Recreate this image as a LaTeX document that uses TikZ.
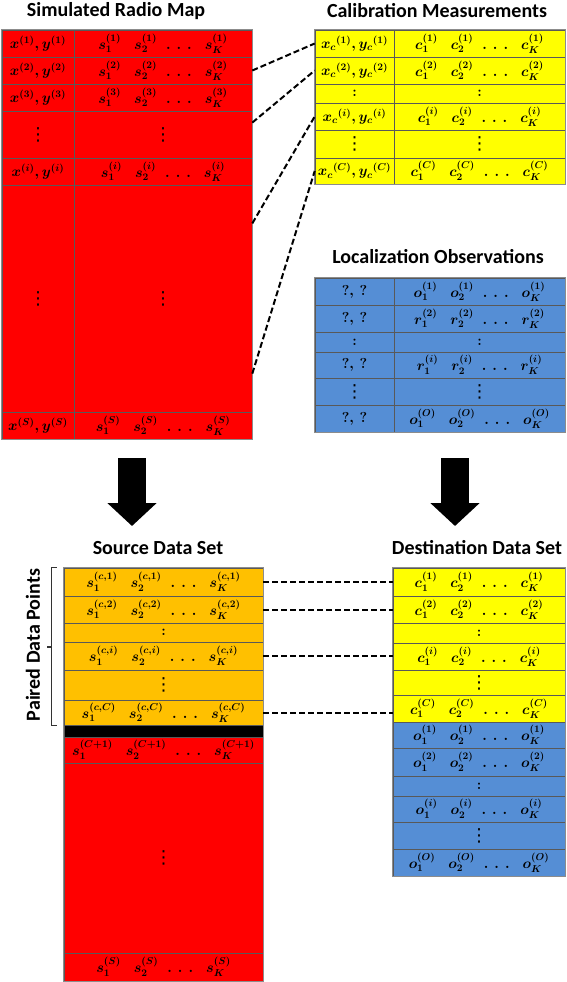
\documentclass[tikz,border=0pt]{standalone}
\usepackage{amsmath,amssymb}
\usepackage{fontspec}
\usepackage{xcolor}
\usepackage{tikz}
\usetikzlibrary{arrows.meta, calc}

\newfontfamily\titlefont{Carlito}
\newfontfamily\dotsfont{DejaVu Sans}

\definecolor{mapred}{HTML}{FF0000}
\definecolor{calyellow}{HTML}{FFFF00}
\definecolor{obsblue}{HTML}{558ED5}
\definecolor{srcorange}{HTML}{FFC000}

% table cell: name, style, x left, x right, y top, y bottom, text
\newcommand{\tabcell}[7]{%
  \node[#2, minimum width={(#4-#3)*1pt}, minimum height={(#6-#5)*1pt}] (#1) at ({(#3+#4)/2},{(#5+#6)/2}) {#7};}
% values v_1 v_2 ... v_K of one data point
\newcommand{\vals}[2]{$#1_1^{(#2)}\hspace{13pt}#1_2^{(#2)}\hspace{9pt}.\hspace{6pt}.\hspace{6pt}.\hspace{13pt}#1_K^{(#2)}$}
% calibration position
\newcommand{\calpos}[1]{$x_c{}^{(#1)}, y_c{}^{(#1)}$}
% vertical dots
\newcommand{\vdts}{{\dotsfont\fontsize{18}{20}\selectfont ⋮}}

\begin{document}
\begin{tikzpicture}[
  x=1pt, y=-1pt,
  cellbase/.style={rectangle, draw=black!65, line width=0.6pt, inner sep=0pt, font=\boldmath\fontsize{14}{16}\selectfont},
  redcell/.style={cellbase, fill=mapred},
  yellowcell/.style={cellbase, fill=calyellow},
  bluecell/.style={cellbase, fill=obsblue},
  orangecell/.style={cellbase, fill=srcorange},
  bandcell/.style={cellbase, fill=black},
  frame/.style={draw=black!45, line width=1.4pt},
  title/.style={font=\titlefont\bfseries\fontsize{20}{24}\selectfont, inner sep=0pt},
  mapline/.style={dash pattern=on 6pt off 3pt, line width=2pt},
  bigarrow/.style={-{Triangle[width=48pt,length=23pt]}, line width=28pt}
]
  \useasboundingbox (0,0) rectangle (566,982);

  % simulated radio map
  \node[title] (rmtitle) at (116,11) {Simulated Radio Map};
  \tabcell{rm1a}{redcell}{2}{74}{30}{57}{$x^{(1)}, y^{(1)}$}
  \tabcell{rm1b}{redcell}{74}{252}{30}{57}{\vals{s}{1}}
  \tabcell{rm2a}{redcell}{2}{74}{57}{84}{$x^{(2)}, y^{(2)}$}
  \tabcell{rm2b}{redcell}{74}{252}{57}{84}{\vals{s}{2}}
  \tabcell{rm3a}{redcell}{2}{74}{84}{111}{$x^{(3)}, y^{(3)}$}
  \tabcell{rm3b}{redcell}{74}{252}{84}{111}{\vals{s}{3}}
  \tabcell{rm4a}{redcell}{2}{74}{111}{158}{\vdts}
  \tabcell{rm4b}{redcell}{74}{252}{111}{158}{\vdts}
  \tabcell{rm5a}{redcell}{2}{74}{158}{185}{$x^{(i)}, y^{(i)}$}
  \tabcell{rm5b}{redcell}{74}{252}{158}{185}{\vals{s}{i}}
  \tabcell{rm6a}{redcell}{2}{74}{185}{412}{\vdts}
  \tabcell{rm6b}{redcell}{74}{252}{185}{412}{\vdts}
  \tabcell{rm7a}{redcell}{2}{74}{412}{439}{$x^{(S)}, y^{(S)}$}
  \tabcell{rm7b}{redcell}{74}{252}{412}{439}{\vals{s}{S}}
  \draw[frame] (rm1a.north west) rectangle (rm7b.south east);

  % calibration measurements
  \node[title] (cmtitle) at (437,11) {Calibration Measurements};
  \tabcell{cm1a}{yellowcell}{315}{394}{30}{57}{\calpos{1}}
  \tabcell{cm1b}{yellowcell}{394}{565}{30}{57}{\vals{c}{1}}
  \tabcell{cm2a}{yellowcell}{315}{394}{57}{84}{\calpos{2}}
  \tabcell{cm2b}{yellowcell}{394}{565}{57}{84}{\vals{c}{2}}
  \tabcell{cm3a}{yellowcell}{315}{394}{84}{103}{$:$}
  \tabcell{cm3b}{yellowcell}{394}{565}{84}{103}{$:$}
  \tabcell{cm4a}{yellowcell}{315}{394}{103}{130}{\calpos{i}}
  \tabcell{cm4b}{yellowcell}{394}{565}{103}{130}{\vals{c}{i}}
  \tabcell{cm5a}{yellowcell}{315}{394}{130}{158}{\vdts}
  \tabcell{cm5b}{yellowcell}{394}{565}{130}{158}{\vdts}
  \tabcell{cm6a}{yellowcell}{315}{394}{158}{184}{\calpos{C}}
  \tabcell{cm6b}{yellowcell}{394}{565}{158}{184}{\vals{c}{C}}
  \draw[frame] (cm1a.north west) rectangle (cm6b.south east);

  % calibration points inside the radio map
  \draw[mapline] (rm2b.east) -- (cm1a.west);
  \draw[mapline] ($(rm4b.north east)!0.25!(rm4b.south east)$) -- (cm2a.west);
  \draw[mapline] ($(rm6b.north east)!0.17!(rm6b.south east)$) -- (cm4a.west);
  \draw[mapline] ($(rm6b.north east)!0.83!(rm6b.south east)$) -- (cm6a.west);

  % localization observations
  \node[title] (lotitle) at (438,257) {Localization Observations};
  \tabcell{lo1a}{bluecell}{315}{394}{278}{305}{$?,\,?$}
  \tabcell{lo1b}{bluecell}{394}{565}{278}{305}{\vals{o}{1}}
  \tabcell{lo2a}{bluecell}{315}{394}{305}{332}{$?,\,?$}
  \tabcell{lo2b}{bluecell}{394}{565}{305}{332}{\vals{r}{2}}
  \tabcell{lo3a}{bluecell}{315}{394}{332}{352}{$:$}
  \tabcell{lo3b}{bluecell}{394}{565}{332}{352}{$:$}
  \tabcell{lo4a}{bluecell}{315}{394}{352}{378}{$?,\,?$}
  \tabcell{lo4b}{bluecell}{394}{565}{352}{378}{\vals{r}{i}}
  \tabcell{lo5a}{bluecell}{315}{394}{378}{405}{\vdts}
  \tabcell{lo5b}{bluecell}{394}{565}{378}{405}{\vdts}
  \tabcell{lo6a}{bluecell}{315}{394}{405}{432}{$?,\,?$}
  \tabcell{lo6b}{bluecell}{394}{565}{405}{432}{\vals{o}{O}}
  \draw[frame] (lo1a.north west) rectangle (lo6b.south east);

  % big arrows
  \coordinate (aL1) at (132,458);
  \coordinate (aL2) at (132,526);
  \coordinate (aR1) at (455,458);
  \coordinate (aR2) at (455,526);
  \draw[bigarrow] (aL1) -- (aL2);
  \draw[bigarrow] (aR1) -- (aR2);

  % source data set
  \node[title] (sdtitle) at (158,548) {Source Data Set};
  \tabcell{sd1}{orangecell}{64}{263}{568}{596}{\vals{s}{c,1}}
  \tabcell{sd2}{orangecell}{64}{263}{596}{623}{\vals{s}{c,2}}
  \tabcell{sd3}{orangecell}{64}{263}{623}{642}{$:$}
  \tabcell{sd4}{orangecell}{64}{263}{642}{670}{\vals{s}{c,i}}
  \tabcell{sd5}{orangecell}{64}{263}{670}{700}{\vdts}
  \tabcell{sd6}{orangecell}{64}{263}{700}{725}{\vals{s}{c,C}}
  \tabcell{sdband}{bandcell}{64}{263}{725}{737}{}
  \tabcell{sd7}{redcell}{64}{263}{737}{763}{\vals{s}{C+1}}
  \tabcell{sd8}{redcell}{64}{263}{763}{953}{\vdts}
  \tabcell{sd9}{redcell}{64}{263}{953}{981}{\vals{s}{S}}
  \draw[frame] (sd1.north west) rectangle (sd9.south east);

  % bracket for the paired points
  \draw[line width=1.2pt, black!80] ([xshift=-7pt]sd1.north west) -- ++(-5,0) |- ([xshift=-7pt]sd6.south west);
  \draw[line width=1.2pt, black!80] (52,647) -- (47,647);
  \node[title, rotate=90] (pdp) at (33,645) {Paired Data Points};

  % destination data set
  \node[title] (ddtitle) at (477,548) {Destination Data Set};
  \tabcell{dd1}{yellowcell}{393}{565}{568}{596}{\vals{c}{1}}
  \tabcell{dd2}{yellowcell}{393}{565}{596}{623}{\vals{c}{2}}
  \tabcell{dd3}{yellowcell}{393}{565}{623}{643}{$:$}
  \tabcell{dd4}{yellowcell}{393}{565}{643}{670}{\vals{c}{i}}
  \tabcell{dd5}{yellowcell}{393}{565}{670}{695}{\vdts}
  \tabcell{dd6}{yellowcell}{393}{565}{695}{722}{\vals{c}{C}}
  \tabcell{dd7}{bluecell}{393}{565}{722}{748}{\vals{o}{1}}
  \tabcell{dd8}{bluecell}{393}{565}{748}{776}{\vals{o}{2}}
  \tabcell{dd9}{bluecell}{393}{565}{776}{796}{$:$}
  \tabcell{dd10}{bluecell}{393}{565}{796}{822}{\vals{o}{i}}
  \tabcell{dd11}{bluecell}{393}{565}{822}{849}{\vdts}
  \tabcell{dd12}{bluecell}{393}{565}{849}{876}{\vals{o}{O}}
  \draw[frame] (dd1.north west) rectangle (dd12.south east);

  % pairs between source and destination
  \draw[mapline] (sd1.east) -- (sd1.east -| dd1.west);
  \draw[mapline] (sd2.east) -- (sd2.east -| dd2.west);
  \draw[mapline] (sd4.east) -- (sd4.east -| dd4.west);
  \draw[mapline] (sd6.east) -- (sd6.east -| dd6.west);
\end{tikzpicture}
\end{document}
